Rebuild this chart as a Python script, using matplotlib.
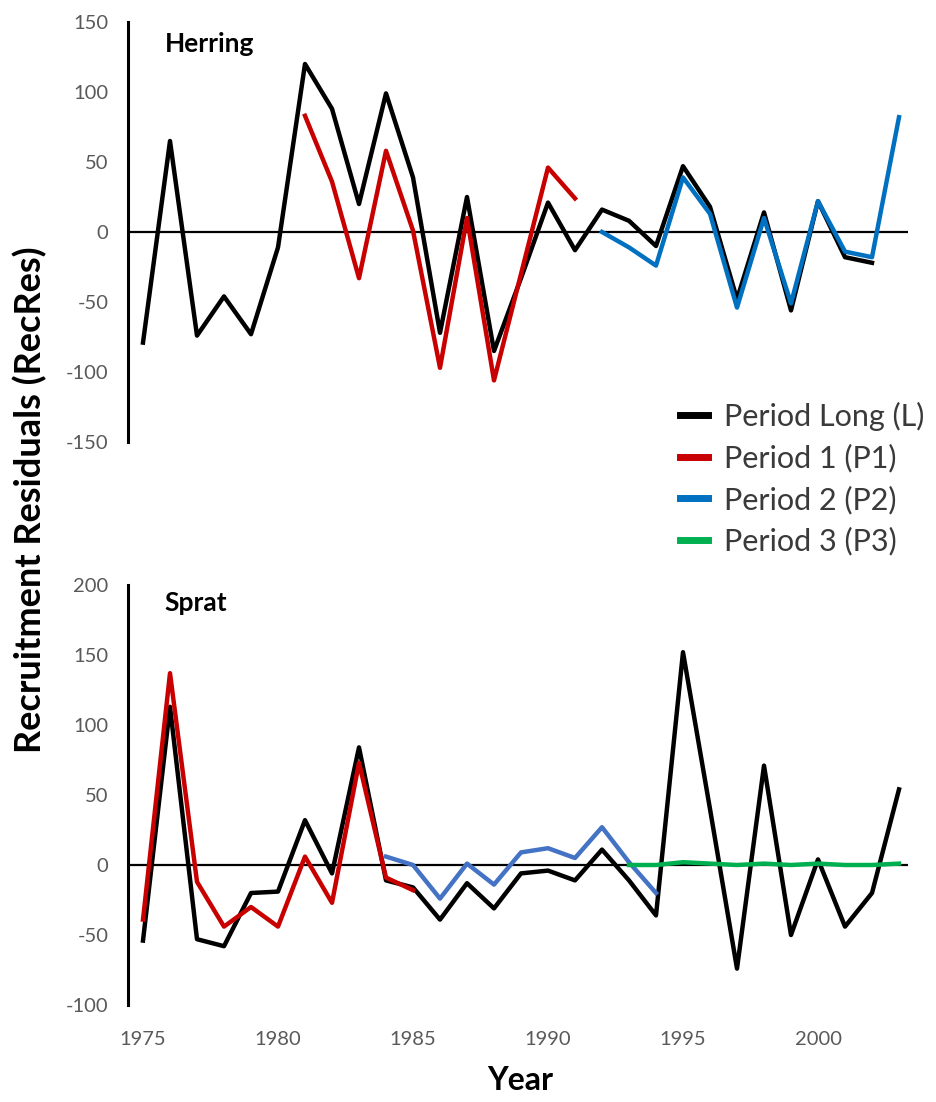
import numpy as np
import matplotlib.pyplot as plt
from matplotlib.lines import Line2D

plt.rcParams['font.family'] = ['Lato', 'DejaVu Sans']
plt.rcParams['axes.unicode_minus'] = False

# Herring
her_years_L = np.arange(1975, 2003)
her_L = [-79, 65, -74, -46, -73, -11, 120, 88, 20, 99, 39, -72, 25, -85, -33,
         21, -13, 16, 8, -10, 47, 18, -48, 14, -56, 22, -18, -22]
her_years_P1 = np.arange(1981, 1992)
her_P1 = [83, 36, -33, 58, 1, -97, 10, -106, -30, 46, 24]
her_years_P2 = np.arange(1992, 2004)
her_P2 = [0, -11, -24, 39, 13, -54, 10, -51, 22, -14, -18, 82]

# Sprat
spr_years_L = np.arange(1975, 2004)
spr_L = [-54, 113, -53, -58, -20, -19, 32, -6, 84, -11, -16, -39, -13, -31, -6,
         -4, -11, 11, -11, -36, 152, 40, -74, 71, -50, 4, -44, -20, 54]
spr_years_P1 = np.arange(1975, 1986)
spr_P1 = [-39, 137, -12, -44, -30, -44, 6, -27, 73, -9, -18]
spr_years_P2 = np.arange(1984, 1995)
spr_P2 = [6, 0, -24, 1, -14, 9, 12, 5, 27, 2, -20]
spr_years_P3 = np.arange(1993, 2004)
spr_P3 = [0, 0, 2, 1, 0, 1, 0, 1, 0, 0, 1]

labels = ['Period Long (L)', 'Period 1 (P1)', 'Period 2 (P2)', 'Period 3 (P3)']
c_L, c_P1, c_P2, c_P3 = '#000000', '#C80000', '#0070C0', '#00B050'
c_P2_sprat = '#4472C4'

W, H = 936, 1102
fig = plt.figure(figsize=(W / 100, H / 100), dpi=100)

x0, x1 = 128, 908
xlim = (1975 + (x0 - 143) / 27, 1975 + (x1 - 143) / 27)

def make_axes(top_px, bottom_px):
    return fig.add_axes([x0 / W, 1 - bottom_px / H, (x1 - x0) / W, (bottom_px - top_px) / H])

def style(ax, ylim, yticks, title, title_y):
    ax.set_xlim(*xlim)
    ax.set_ylim(*ylim)
    ax.set_yticks(yticks)
    for s in ['top', 'right', 'bottom']:
        ax.spines[s].set_visible(False)
    ax.spines['left'].set_linewidth(2.2)
    ax.axhline(0, color='black', lw=1.6, zorder=1)
    ax.tick_params(axis='y', length=0, pad=14, labelsize=14.5, labelcolor='#595959')
    ax.text(0.047, title_y, title, transform=ax.transAxes, fontsize=19,
            fontweight='bold', va='top', ha='left')

lw = 3.2

ax1 = make_axes(22, 442)
ax1.plot(her_years_L, her_L, color=c_L, lw=lw, zorder=2)
ax1.plot(her_years_P1, her_P1, color=c_P1, lw=lw, zorder=3)
ax1.plot(her_years_P2, her_P2, color=c_P2, lw=lw, zorder=4)
style(ax1, (-150, 150), np.arange(-150, 151, 50), 'Herring', 0.975)
ax1.set_xticks([])

ax2 = make_axes(585, 1005)
ax2.plot(spr_years_L, spr_L, color=c_L, lw=lw, zorder=2)
ax2.plot(spr_years_P1, spr_P1, color=c_P1, lw=lw, zorder=3)
ax2.plot(spr_years_P2, spr_P2, color=c_P2_sprat, lw=lw, zorder=4)
ax2.plot(spr_years_P3, spr_P3, color=c_P3, lw=lw, zorder=5)
style(ax2, (-100, 200), np.arange(-100, 201, 50), 'Sprat', 0.985)
ax2.set_xticks(np.arange(1975, 2001, 5))
ax2.tick_params(axis='x', length=0, pad=19, labelsize=14.5, labelcolor='#595959')

handles = [Line2D([], [], color=c, lw=5) for c in [c_L, c_P1, c_P2, c_P3]]
fig.legend(handles, labels, loc='upper left', bbox_to_anchor=(680 / W, 1 - 402 / H),
           frameon=False, fontsize=22, handlelength=0.9, handletextpad=0.55,
           labelspacing=0.42, borderaxespad=0, borderpad=0, labelcolor='#3a3a3a')

fig.text(30 / W, 1 - 500 / H, 'Recruitment Residuals (RecRes)', rotation=90,
         ha='center', va='center', fontsize=26, fontweight='bold')
fig.text(520 / W, 1 - 1080 / H, 'Year', ha='center', va='center',
         fontsize=23, fontweight='bold')

fig.savefig('out.png', dpi=100)
